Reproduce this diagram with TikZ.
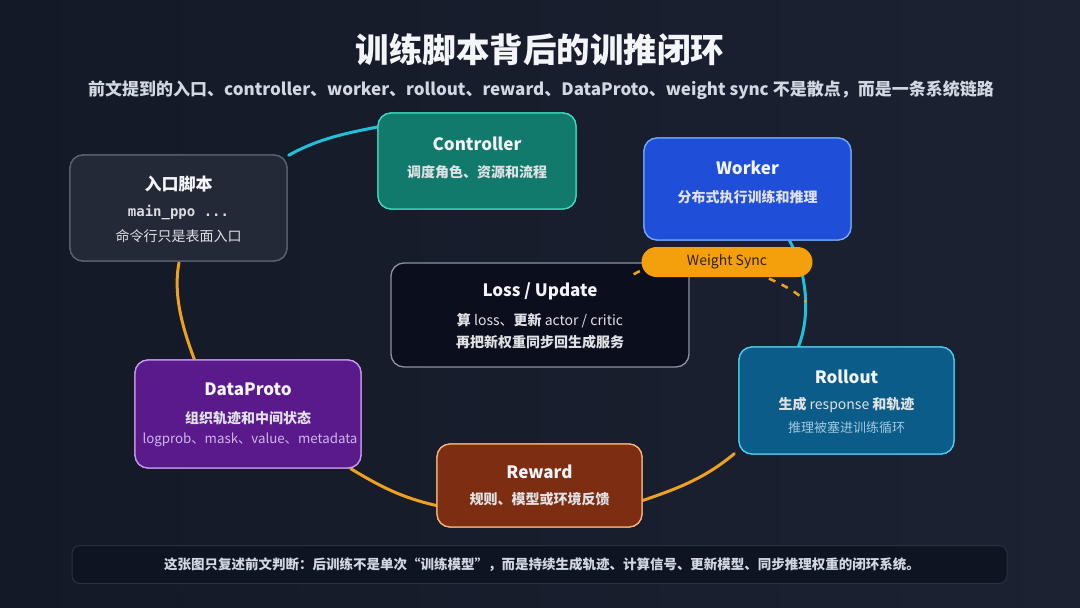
\documentclass[tikz,border=0pt]{standalone}
\usepackage{fontspec}
\setmainfont{Noto Sans CJK SC}
\newfontfamily\codefont{DejaVu Sans Mono}
\usetikzlibrary{calc}
\definecolor{bgL}{HTML}{141927}
\definecolor{bgR}{HTML}{1C2232}
\definecolor{cyanline}{HTML}{22BFD9}
\definecolor{orangeline}{HTML}{EEA020}
\definecolor{entryfill}{HTML}{242938}
\definecolor{entrydraw}{HTML}{5C6373}
\definecolor{ctrlfill}{HTML}{127A6C}
\definecolor{ctrldraw}{HTML}{3FD8C0}
\definecolor{workfill}{HTML}{1F4FD8}
\definecolor{workdraw}{HTML}{6FA8F5}
\definecolor{lossfill}{HTML}{0B0F1D}
\definecolor{lossdraw}{HTML}{8C93A3}
\definecolor{rollfill}{HTML}{0B5C88}
\definecolor{rolldraw}{HTML}{4CCBF0}
\definecolor{rewfill}{HTML}{7C2D12}
\definecolor{rewdraw}{HTML}{F5B27A}
\definecolor{dpfill}{HTML}{5A1A8C}
\definecolor{dpdraw}{HTML}{C49AF0}
\definecolor{syncfill}{HTML}{F4A00C}
\definecolor{synctext}{HTML}{2E2110}
\definecolor{barfill}{HTML}{0F1423}
\definecolor{bardraw}{HTML}{2A3142}
\definecolor{titletext}{HTML}{F3F5F8}
\definecolor{subtext}{HTML}{D2D8E2}
\definecolor{dpmuted}{HTML}{CDB5EA}
\definecolor{rollmuted}{HTML}{A2C8DE}
\tikzset{
  box/.style={rectangle, rounded corners=13pt, line width=1.3pt, inner sep=0pt},
  ttl/.style={text=titletext, font=\bfseries\fontsize{17}{20}\selectfont, inner sep=0pt, anchor=center},
  sub/.style={text=titletext!92!black, font=\bfseries\fontsize{14}{16}\selectfont, inner sep=0pt, anchor=center},
  conn/.style={line width=3pt, line cap=round},
}
\begin{document}
\begin{tikzpicture}[x=1pt,y=-1pt]
\useasboundingbox (0,0) rectangle (1080,608);
\shade[left color=bgL, right color=bgR] (0,0) rectangle (1080,608);

% titles
\node[text=titletext, font=\bfseries\fontsize{33.5}{38}\selectfont, inner sep=0pt] (title) at (540,50) {训练脚本背后的训推闭环};
\node[text=subtext, font=\bfseries\fontsize{17}{20}\selectfont, inner sep=0pt] (subtitle) at (541,90) {前文提到的入口、controller、worker、rollout、reward、DataProto、weight sync 不是散点，而是一条系统链路};

% boxes
\node[box, fill=entryfill, draw=entrydraw, minimum width=217pt, minimum height=106pt] (entry) at (178.5,208) {};
\node[box, fill=ctrlfill, draw=ctrldraw, minimum width=198pt, minimum height=96pt] (ctrl) at (477,161) {};
\node[box, fill=workfill, draw=workdraw, minimum width=207pt, minimum height=102pt] (work) at (747.5,189) {};
\node[box, fill=lossfill, draw=lossdraw, minimum width=298pt, minimum height=104pt] (loss) at (540,315) {};
\node[box, fill=rollfill, draw=rolldraw, minimum width=215pt, minimum height=107pt] (roll) at (846.5,400.5) {};
\node[box, fill=rewfill, draw=rewdraw, minimum width=205pt, minimum height=83pt] (rew) at (539.5,485.5) {};
\node[box, fill=dpfill, draw=dpdraw, minimum width=226pt, minimum height=108pt] (dp) at (248,414) {};

% loop connectors
\coordinate (syncend) at (806,302);
\draw[conn, cyanline] ($(entry.north east)+(1,1)$) .. controls +(30,-17) and +(-30,6) .. ($(ctrl.west)+(0,-34)$);
\draw[conn, cyanline] ($(work.south)+(42,0)$) .. controls +(18,32) and +(12,-30) .. ($(roll.north)+(-48,0)$);
\draw[conn, orangeline] ($(roll.south west)+(-4,-1)$) .. controls +(-30,25) and +(35,-12) .. ($(rew.east)+(0,15)$);
\draw[conn, orangeline] ($(rew.west)+(0,20)$) .. controls +(-35,-8) and +(30,18) .. ($(dp.south east)+(-11,0)$);
\draw[conn, orangeline] ($(dp.north west)+(60,0)$) .. controls +(-12,-32) and +(-6,32) .. ($(entry.south)+(0.5,1)$);

% redraw boxes on top of line ends
\node[box, fill=entryfill, draw=entrydraw, minimum width=217pt, minimum height=106pt] (entryb) at (entry) {};
\node[box, fill=ctrlfill, draw=ctrldraw, minimum width=198pt, minimum height=96pt] (ctrlb) at (ctrl) {};
\node[box, fill=workfill, draw=workdraw, minimum width=207pt, minimum height=102pt] (workb) at (work) {};
\node[box, fill=rollfill, draw=rolldraw, minimum width=215pt, minimum height=107pt] (rollb) at (roll) {};
\node[box, fill=rewfill, draw=rewdraw, minimum width=205pt, minimum height=83pt] (rewb) at (rew) {};
\node[box, fill=dpfill, draw=dpdraw, minimum width=226pt, minimum height=108pt] (dpb) at (dp) {};

% texts
\node[ttl] (entryT) at (178.5,184) {入口脚本};
\node[text=titletext!90!black, font=\codefont\bfseries\fontsize{14}{16}\selectfont, inner sep=0pt] (entryC) at (178.5,212) {main\_ppo ...};
\node[sub, font=\fontsize{14}{16}\selectfont] (entryS) at (178.5,236) {命令行只是表面入口};

\node[ttl] (ctrlT) at (477,144) {Controller};
\node[sub] (ctrlS) at (477,172) {调度角色、资源和流程};

\node[ttl] (workT) at (747.5,168) {Worker};
\node[sub] (workS) at (747.5,197) {分布式执行训练和推理};

\node[ttl] (lossT) at (540,291) {Loss / Update};
\node[sub, font=\fontsize{14}{16}\selectfont] (lossS1) at (540,321) {\textbf{算} loss、\textbf{更新} actor / critic};
\node[sub] (lossS2) at (540,342) {再把新权重同步回生成服务};

\node[ttl] (rollT) at (846.5,377) {Rollout};
\node[sub, font=\fontsize{14}{16}\selectfont] (rollS1) at (846.5,405) {\textbf{生成} response \textbf{和轨迹}};
\node[sub, text=rollmuted, font=\fontsize{13}{15}\selectfont] (rollS2) at (846.5,428) {推理被塞进训练循环};

\node[ttl] (rewT) at (539.5,472) {Reward};
\node[sub] (rewS) at (539.5,499) {规则、模型或环境反馈};

\node[ttl] (dpT) at (248,389) {DataProto};
\node[sub] (dpS) at (248,418) {组织轨迹和中间状态};
\node[sub, text=dpmuted, font=\fontsize{13.3}{15}\selectfont] (dpS2) at (250,440) {logprob、mask、value、metadata};

% weight sync
\coordinate (syncstart) at ($(loss.north east)+(-56,12)$);
\draw[orangeline, line width=2.6pt, dash pattern=on 7pt off 7pt] (syncstart) .. controls +(60,-35) and +(-15,-20) .. (syncend);
\node[rectangle, rounded corners=15pt, fill=syncfill, minimum width=171pt, minimum height=30pt, inner sep=0pt, text=synctext, font=\fontsize{14}{15}\selectfont] (sync) at (727,262) {Weight Sync};

% bottom bar
\node[rectangle, rounded corners=8pt, fill=barfill, draw=bardraw, line width=1pt, minimum width=935pt, minimum height=38pt, inner sep=0pt] (bar) at (539.5,564.5) {};
\node[text=subtext, font=\bfseries\fontsize{13.5}{15}\selectfont, inner sep=0pt] (barT) at (542,565) {这张图只复述前文判断：后训练不是单次“训练模型”，而是持续生成轨迹、计算信号、更新模型、同步推理权重的闭环系统。};
\end{tikzpicture}
\end{document}
